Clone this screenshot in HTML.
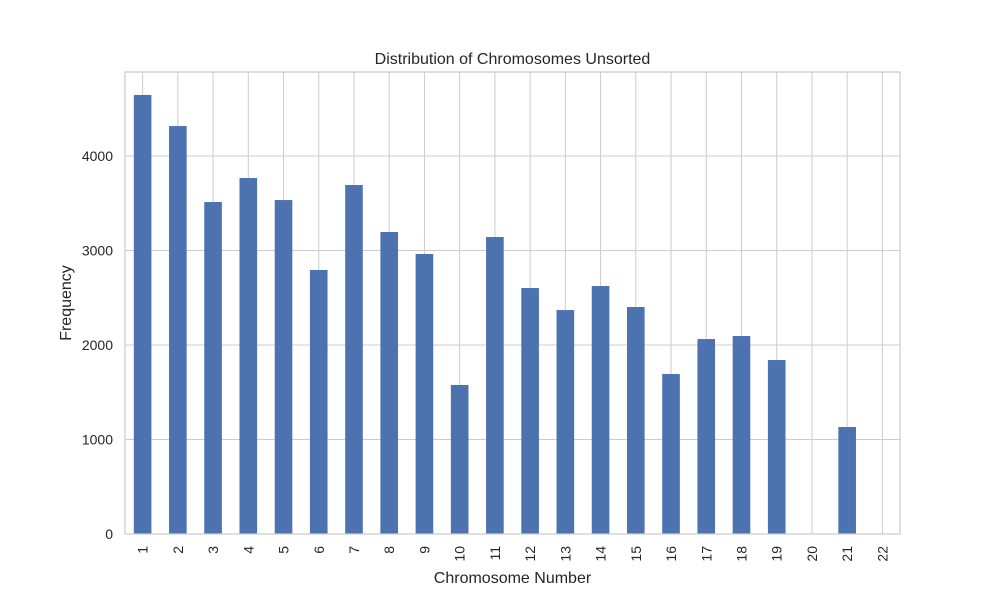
<!DOCTYPE html>
<html><head><meta charset="utf-8"><style>body{margin:0;background:#fff}svg text{font-family:"Liberation Sans",sans-serif;fill:#262626}</style></head>
<body>
<svg id="chart" width="1000" height="600"></svg>
<script>
const categories=["1","2","3","4","5","6","7","8","9","10","11","12","13","14","15","16","17","18","19","20","21","22"];
const values=[4646,4317,3513,3767,3534,2794,3693,3196,2963,1577,3143,2603,2370,2624,2402,1693,2063,2095,1841,0,1132,0];
const yTicks=[0,1000,2000,3000,4000];
const L=125,R=900,T=72,B=534,yMax=4889;
const svg=document.getElementById('chart');const NS='http://www.w3.org/2000/svg';
function el(t,a,p){const e=document.createElementNS(NS,t);for(const k in a)e.setAttribute(k,a[k]);(p||svg).appendChild(e);return e;}
const step=(R-L)/categories.length;
const x=i=>L+step*(i+0.5);
const y=v=>B-(v/yMax)*(B-T);
yTicks.forEach(t=>{const g=el('line',{x1:L,x2:R,y1:y(t),y2:y(t),stroke:'#cccccc','stroke-width':1});


const tx=el('text',{x:L-12,y:y(t)+5,'text-anchor':'end','font-size':14});tx.textContent=t;

});
categories.forEach((c,i)=>{const g=el('line',{x1:x(i),x2:x(i),y1:T,y2:B,stroke:'#cccccc','stroke-width':1});

});
values.forEach((v,i)=>{const w=step*0.5;const r=el('rect',{x:x(i)-w/2,y:y(v),width:w,height:B-y(v),fill:'#4c72b0'});

});
categories.forEach((c,i)=>{const tx=el('text',{transform:`translate(${x(i)+5},${B+12}) rotate(-90)`,'text-anchor':'end','font-size':14});tx.textContent=c;

});
const f=el('rect',{x:L,y:T,width:R-L,height:B-T,fill:'none',stroke:'#cccccc','stroke-width':1.25});


const t1=el('text',{x:(L+R)/2,y:64,'text-anchor':'middle','font-size':16});t1.textContent='Distribution of Chromosomes Unsorted';


const t2=el('text',{x:(L+R)/2,y:583,'text-anchor':'middle','font-size':16});t2.textContent='Chromosome Number';


const t3=el('text',{transform:`translate(71,${(T+B)/2}) rotate(-90)`,'text-anchor':'middle','font-size':16});t3.textContent='Frequency';


</script>
</body></html>
